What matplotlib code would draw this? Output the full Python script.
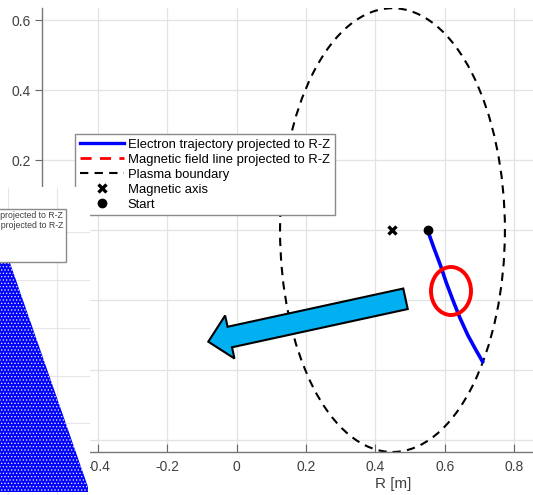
import numpy as np
import matplotlib
matplotlib.use("Agg")
import matplotlib.pyplot as plt
from matplotlib.lines import Line2D
from matplotlib.patches import Ellipse, FancyArrow, Polygon, Rectangle
from matplotlib.transforms import Affine2D

W, H = 533, 495

# plasma boundary (ellipse), R-Z plane
boundary_center = (0.449, 0.0)
boundary_width = 0.648
boundary_height = 1.268

# electron trajectory projected to R-Z
traj_r = [0.550, 0.568, 0.587, 0.604, 0.623, 0.643, 0.666, 0.688, 0.711]
traj_z = [0.000, -0.050, -0.100, -0.150, -0.200, -0.250, -0.300, -0.340, -0.380]

magnetic_axis = (0.448, 0.0)
start_point = (0.550, 0.0)

x_ticks = [-0.4, -0.2, 0.0, 0.2, 0.4, 0.6, 0.8]
x_tick_labels = ["-0.4", "-0.2", "0", "0.2", "0.4", "0.6", "0.8"]
y_ticks = [-0.6, -0.4, -0.2, 0.0, 0.2, 0.4, 0.6]
y_tick_labels = ["-0.6", "-0.4", "-0.2", "0", "0.2", "0.4", "0.6"]

legend_labels = [
    "Electron trajectory projected to R-Z",
    "Magnetic field line projected to R-Z",
    "Plasma boundary",
    "Magnetic axis",
    "Start",
]
inset_labels = [
    "Electron trajectory projected to R-Z",
    "Magnetic field line projected to R-Z",
]

plt.rcParams["font.family"] = ["Liberation Sans", "DejaVu Sans"]
plt.rcParams["hatch.linewidth"] = 0.6

fig = plt.figure(figsize=(W / 100, H / 100), dpi=100)
ax = fig.add_axes([42 / W, 43 / H, 702 / W, 444.5 / H])
ax.set_xlim(-0.561, 1.462)
ax.set_ylim(-0.634, 0.636)

ax.grid(True, color="#e3e3e3", linewidth=0.9)
ax.set_axisbelow(True)

ax.add_patch(Ellipse(boundary_center, boundary_width, boundary_height, fill=False,
                     edgecolor="black", linewidth=1.5, linestyle=(0, (4, 3))))
ax.plot(traj_r, traj_z, color="blue", linewidth=2.6, solid_capstyle="butt")
ax.plot(*magnetic_axis, marker="x", color="black", markersize=6, markeredgewidth=2.4)
ax.plot(*start_point, marker="o", color="black", markersize=6)

ax.set_xticks(x_ticks, x_tick_labels)
ax.set_yticks(y_ticks, y_tick_labels)
ax.tick_params(axis="x", direction="in", length=6, pad=6, labelsize=10,
               colors="#666666", labelcolor="#404040")
ax.tick_params(axis="y", direction="out", length=5, pad=3, labelsize=10,
               colors="#666666", labelcolor="#404040")
for side in ["top", "right"]:
    ax.spines[side].set_visible(False)
for side in ["left", "bottom"]:
    ax.spines[side].set_color("#777777")
    ax.spines[side].set_linewidth(1.0)
ax.set_xlabel("R [m]", fontsize=11, color="#404040", labelpad=2)
ax.set_ylabel("Z [m]", fontsize=11, color="#404040")

handles = [
    Line2D([], [], color="blue", linewidth=2.4),
    Line2D([], [], color="red", linewidth=2, linestyle=(0, (4, 3))),
    Line2D([], [], color="black", linewidth=1.5, linestyle=(0, (4, 3))),
    Line2D([], [], color="black", marker="x", linestyle="none", markersize=6, markeredgewidth=2.4),
    Line2D([], [], color="black", marker="o", linestyle="none", markersize=6),
]
leg = ax.legend(handles, legend_labels, loc="upper left",
                bbox_to_anchor=(75 / W, 1 - 134 / H), bbox_transform=fig.transFigure,
                borderaxespad=0, fontsize=9.4, handlelength=3.4, handletextpad=0.3,
                borderpad=0.35, labelspacing=0.22, fancybox=False, framealpha=1,
                edgecolor="#8a8a8a")
leg.get_frame().set_linewidth(1.0)

# pasted screenshot of the 3D view in the lower left corner
ax_in = fig.add_axes([0, 0, 90 / W, 308 / H])
ax_in.set_xlim(0, 90)
ax_in.set_ylim(495, 187)
ax_in.set_facecolor("white")
ax_in.set_xticks([])
ax_in.set_yticks([])
for s in ax_in.spines.values():
    s.set_visible(False)
ax_in.hlines([232, 280, 328, 376, 423], 0, 90, color="#e6e6e6", linewidth=0.8, zorder=0.5)
ax_in.vlines([8, 57], 187, 495, color="#e6e6e6", linewidth=0.8, zorder=0.5)
ax_in.add_patch(Polygon([(0, 250), (5.5, 250), (88, 487), (88, 492), (0, 492)],
                        facecolor="blue", edgecolor="#dcdcff", hatch=".....", linewidth=0))
ax_in.add_patch(Rectangle((-5, 209), 71, 53, facecolor="white", edgecolor="#8a8a8a",
                          linewidth=1.0))
for i, lab in enumerate(inset_labels):
    ax_in.text(63, 216 + 10 * i, lab, fontsize=6.3, color="#404040", ha="right",
               va="center", clip_on=True)

# annotations drawn on top, in image pixels
px = Affine2D().scale(1, -1).translate(0, H)
fig.add_artist(Ellipse((451, 291), 40, 48, fill=False, edgecolor="red",
                       linewidth=2.8, transform=px))
fig.add_artist(FancyArrow(405.5, 298.8, -197.2, 42.9, width=21, head_width=44,
                          head_length=22, length_includes_head=True,
                          facecolor="#00b0f0", edgecolor="black", linewidth=1.5,
                          transform=px))

fig.savefig("out.png", dpi=100)
